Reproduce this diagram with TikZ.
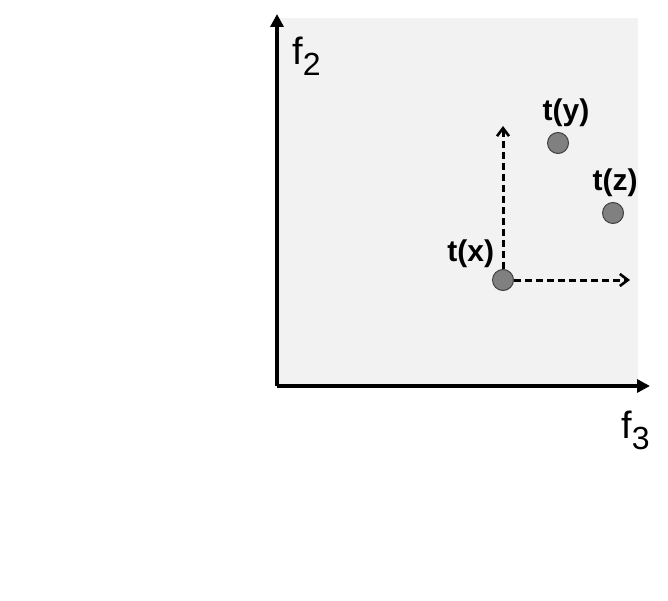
\documentclass[tikz,border=0pt]{standalone}
\usepackage{fontspec}
\setmainfont{Liberation Sans}
\usetikzlibrary{positioning,arrows.meta}

\begin{document}
\begin{tikzpicture}[
  x=1pt, y=-1pt,
  pnt/.style={circle, draw=black!75, fill=black!50, line width=1pt, minimum size=21pt, inner sep=0pt},
  lab/.style={font=\fontsize{30}{32}\selectfont\bfseries, inner sep=0pt},
  axlab/.style={font=\fontsize{38}{40}\selectfont, inner sep=0pt, anchor=north west},
  axis/.style={-{Triangle[length=13pt, width=13pt]}, line width=3.8pt},
  guide/.style={-{Straight Barb[length=8pt, width=12pt, line width=2.6pt]}, line width=3pt, dash pattern=on 7pt off 4pt}
]
  \useasboundingbox (0,0) rectangle (668,601);
  \fill[black!5] (277,18) rectangle (638,386);

  % axes
  \coordinate (o) at (277,386);
  \coordinate (ytop) at (277,14);
  \coordinate (xend) at (650,386);
  \draw[axis] (o) -- (ytop);
  \draw[axis] (o) -- (xend);
  \node[axlab] (f2) at (292,37) {f\raisebox{-11pt}{\fontsize{32}{34}\selectfont 2}};
  \node[axlab] (f3) at (621,411) {f\raisebox{-11pt}{\fontsize{32}{34}\selectfont 3}};

  % points
  \node[pnt] (tx) at (503,280) {};
  \node[pnt] (ty) at (558,143) {};
  \node[pnt] (tz) at (613,213) {};
  \node[lab, above left=4pt and 1pt of tx] (ltx) {t(x)};
  \node[lab, above=5pt of ty, xshift=8pt] (lty) {t(y)};
  \node[lab, above=5pt of tz, xshift=2pt] (ltz) {t(z)};

  \coordinate (up) at (503,126);
  \coordinate (rt) at (630,280);
  \draw[guide] (tx.north) -- (up);
  \draw[guide] (tx.east) -- (rt);
\end{tikzpicture}
\end{document}
